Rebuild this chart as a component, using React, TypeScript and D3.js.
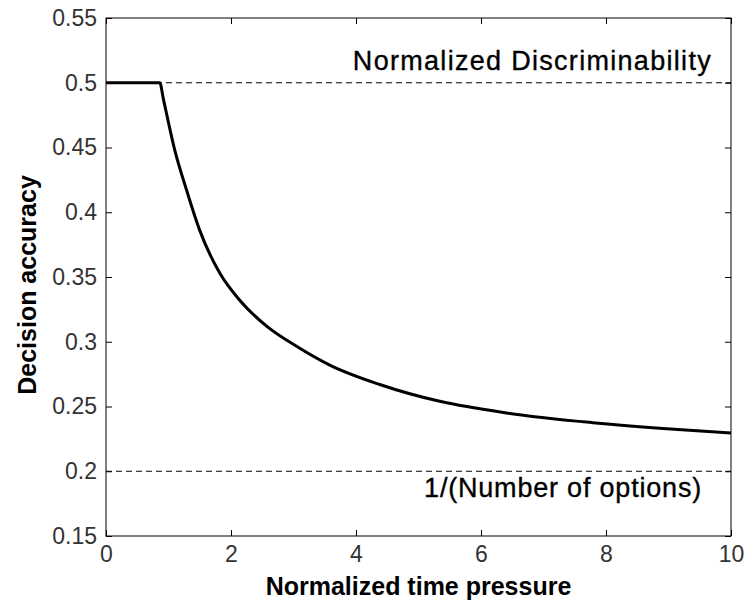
import { useEffect, useRef } from "react";
import * as d3 from "d3";

// curve
const pressure = [0, 0.86, 0.92, 1.1, 1.29, 1.5, 1.82, 2.14, 2.57, 3.1, 3.58, 4.38, 5.34, 6.41, 7.79, 8.91, 10];
const accuracy = [0.5, 0.5, 0.487, 0.448, 0.417, 0.386, 0.353, 0.332, 0.312, 0.295, 0.282, 0.267, 0.254, 0.245, 0.2375, 0.233, 0.2295];

const xTicks = [0, 2, 4, 6, 8, 10];
const yTicks = [0.15, 0.2, 0.25, 0.3, 0.35, 0.4, 0.45, 0.5, 0.55];

const upperBound = 0.5;
const upperLabel = "Normalized Discriminability";
const lowerBound = 0.2;
const lowerLabel = "1/(Number of options)";

const W = 745;
const H = 605;
const margin = { left: 106, right: 14, top: 18, bottom: 69 };

const App = () => {
  const svgRef = useRef<SVGSVGElement>(null);

  useEffect(() => {
    const svg = d3.select(svgRef.current);
    svg.selectAll("*").remove();

    const x = d3.scaleLinear().domain([0, 10]).range([margin.left, W - margin.right]);
    const y = d3.scaleLinear().domain([0.15, 0.55]).range([H - margin.bottom, margin.top]);
    const font = "'Liberation Sans', Arial, sans-serif";

    // box
    svg
      .append("rect")
      .attr("x", x(0))
      .attr("y", y(0.55))
      .attr("width", x(10) - x(0))
      .attr("height", y(0.15) - y(0.55))
      .attr("fill", "none")
      .attr("stroke", "#000")
      .attr("stroke-width", 1);

    // axes with inward ticks on all sides
    const tickLen = 6;
    const xb = svg.append("g").attr("transform", `translate(0,${y(0.15)})`)
      .call(d3.axisBottom(x).tickValues(xTicks).tickSizeInner(-tickLen).tickSizeOuter(0).tickPadding(10).tickFormat(d3.format("d")));
    const xt = svg.append("g").attr("transform", `translate(0,${y(0.55)})`)
      .call(d3.axisTop(x).tickValues(xTicks).tickSizeInner(-tickLen).tickSizeOuter(0).tickFormat(() => ""));
    const yl = svg.append("g").attr("transform", `translate(${x(0)},0)`)
      .call(d3.axisLeft(y).tickValues(yTicks).tickSizeInner(-tickLen).tickSizeOuter(0).tickPadding(9).tickFormat((d) => String(d)));
    const yr = svg.append("g").attr("transform", `translate(${x(10)},0)`)
      .call(d3.axisRight(y).tickValues(yTicks).tickSizeInner(-tickLen).tickSizeOuter(0).tickFormat(() => ""));

    [xb, xt, yl, yr].forEach((g) => {
      g.select(".domain").remove();
      g.selectAll("line").attr("stroke", "#000");
      g.selectAll("text")
        .attr("font-family", font)
        .attr("font-size", 23)
        .attr("fill", "#333");
    });

    // dashed reference lines
    [upperBound, lowerBound].forEach((v) => {
      svg
        .append("line")
        .attr("x1", x(0))
        .attr("x2", x(10))
        .attr("y1", y(v))
        .attr("y2", y(v))
        .attr("stroke", "#000")
        .attr("stroke-width", 1)
        .attr("stroke-dasharray", "6,4");
    });

    // curve
    const pts: [number, number][] = pressure.map((p, i) => [p, accuracy[i]]);
    const line = d3
      .line<[number, number]>()
      .x((d) => x(d[0]))
      .y((d) => y(d[1]))
      .curve(d3.curveMonotoneX);
    svg
      .append("path")
      .datum(pts)
      .attr("fill", "none")
      .attr("stroke", "#000")
      .attr("stroke-width", 3)
      .attr("d", line);

    // annotations
    svg
      .append("text")
      .attr("x", 712)
      .attr("y", y(upperBound) - 13)
      .attr("text-anchor", "end")
      .attr("font-family", font)
      .attr("font-size", 27)
      .attr("letter-spacing", 1.3)
      .attr("fill", "#000")
      .attr("stroke", "#000")
      .attr("stroke-width", 0.35)
      .text(upperLabel);
    svg
      .append("text")
      .attr("x", 702)
      .attr("y", y(lowerBound) + 26)
      .attr("text-anchor", "end")
      .attr("font-family", font)
      .attr("font-size", 27)
      .attr("letter-spacing", 0.8)
      .attr("fill", "#000")
      .attr("stroke", "#000")
      .attr("stroke-width", 0.35)
      .text(lowerLabel);

    // axis titles
    svg
      .append("text")
      .attr("x", (x(0) + x(10)) / 2)
      .attr("y", H - 10)
      .attr("text-anchor", "middle")
      .attr("font-family", font)
      .attr("font-size", 25)
      .attr("font-weight", "bold")
      .text("Normalized time pressure");
    svg
      .append("text")
      .attr("transform", `translate(36,${(y(0.15) + y(0.55)) / 2 + 8}) rotate(-90)`)
      .attr("text-anchor", "middle")
      .attr("font-family", font)
      .attr("font-size", 25)
      .attr("font-weight", "bold")
      .text("Decision accuracy");
  }, []);

  return (
    <svg
      ref={svgRef}
      width={W}
      height={H}
      style={{ position: "absolute", left: 0, top: 0, background: "#fff" }}
    />
  );
};

export default App;
